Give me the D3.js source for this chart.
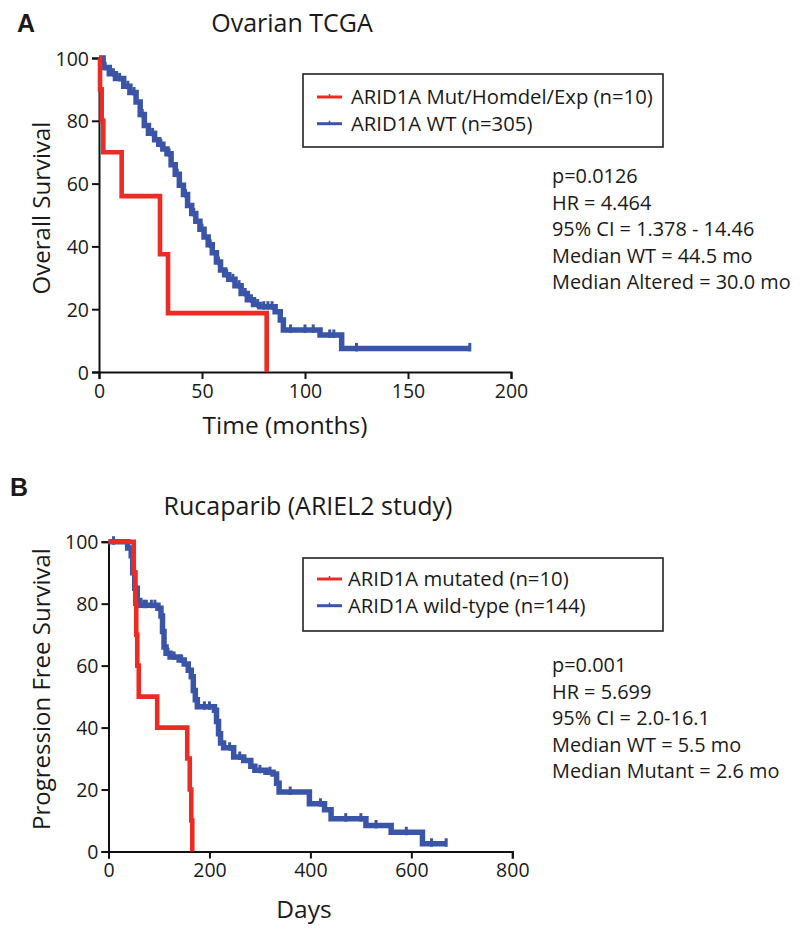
<!DOCTYPE html>
<html><head><meta charset="utf-8">
<script src="https://cdn.jsdelivr.net/npm/d3@7"></script>
<style>
html,body{margin:0;padding:0;background:#fff;}
text{font-family:"Open Sans",sans-serif;fill:#1a1a1a;}
</style></head>
<body>
<svg id="chart" width="800" height="934"></svg>
<script>
// ---------- Panel A: Ovarian TCGA (months, % survival) ----------
const panelATitle = "Ovarian TCGA";
const panelAXTicks = [0, 50, 100, 150, 200];
const panelAYTicks = [0, 20, 40, 60, 80, 100];
const redATime = [0, 0.5, 1.3, 2.1, 11, 29.6, 33.5, 81.4];
const redASurv = [100, 90, 80, 70, 56, 37.5, 18.75, 0];
const blueATime = [0, 2, 5, 8, 12, 15, 18, 20, 22, 24, 27, 29, 31, 33, 35, 37, 39, 41, 43, 45, 47, 49, 51, 53, 55, 57, 59, 61, 63, 66, 69, 72, 75, 78, 85.5, 88, 89.5, 107.3, 117.8, 180];
const blueASurv = [100, 97, 95, 93.5, 91, 89, 86, 82, 78.5, 76, 74, 72.5, 71, 69.5, 66, 63, 59.5, 56.5, 53, 50.5, 48, 45.5, 43, 40.5, 38, 35, 32.5, 31, 29.5, 27.5, 25, 23, 21.5, 20.8, 19.2, 16.6, 13.4, 11.8, 7.5, 7.5];
const blueACensor = [3, 7, 10, 14, 17, 21, 26, 30, 34, 38, 42, 46, 50, 54, 58, 62, 65, 68, 71, 74, 77, 80, 82, 84, 93, 100, 104, 112, 114, 125, 180];
const legendA = ["ARID1A Mut/Homdel/Exp (n=10)", "ARID1A WT (n=305)"];
const statsA = ["p=0.0126", "HR = 4.464", "95% CI = 1.378 - 14.46", "Median WT = 44.5 mo", "Median Altered = 30.0 mo"];

// ---------- Panel B: Rucaparib (days, % PFS) ----------
const panelBTitle = "Rucaparib (ARIEL2 study)";
const panelBXTicks = [0, 200, 400, 600, 800];
const panelBYTicks = [0, 20, 40, 60, 80, 100];
const redBTime = [0, 50, 53, 55, 57, 60, 96.5, 156, 161, 164, 166];
const redBSurv = [100, 90, 80, 70, 60, 50, 40, 30, 20, 10, 0];
const blueBTime = [0, 25, 38, 45, 48, 52, 57, 62, 98, 104, 107, 110, 114, 122, 140, 150, 158, 164, 168, 172, 176, 210, 214, 218, 222, 228, 248, 268, 282, 290, 312, 326, 333, 338, 398, 428, 441, 510, 560, 622, 669];
const blueBSurv = [100, 100, 98, 95.5, 90, 85, 81, 79.5, 78.5, 76, 71, 66, 64, 62.8, 61.8, 60.5, 58.5, 56.4, 52, 49, 46.7, 45.6, 42, 38, 35, 33.5, 30.5, 29.4, 27.5, 26.2, 25.6, 25, 22, 19.2, 15.4, 13.5, 10.6, 8.4, 6.2, 2.5, 2.5];
const blueBCensor = [10, 70, 75, 85, 92, 118, 130, 145, 190, 200, 240, 260, 300, 320, 360, 420, 470, 500, 530, 590, 640, 669];
const legendB = ["ARID1A mutated (n=10)", "ARID1A wild-type (n=144)"];
const statsB = ["p=0.001", "HR = 5.699", "95% CI = 2.0-16.1", "Median WT = 5.5 mo", "Median Mutant = 2.6 mo"];

const RED = "#ec2b24", BLUE = "#3a55a8";
const svg = d3.select("#chart");

function drawPanel(cfg) {
  const g = svg.append("g");
  const x = d3.scaleLinear().domain(cfg.xDomain).range(cfg.xRange);
  const y = d3.scaleLinear().domain([0, 100]).range(cfg.yRange);

  g.append("text").attr("x", cfg.letterX).attr("y", cfg.letterY)
    .style("font-family", "Liberation Sans, Arial, sans-serif")
    .attr("font-weight", "bold").attr("font-size", 25).text(cfg.letter);
  g.append("text").attr("x", cfg.titleX).attr("y", cfg.titleY)
    .attr("text-anchor", "middle").attr("font-size", 25).text(cfg.title);

  const xAxis = d3.axisBottom(x).tickValues(cfg.xTicks).tickSizeOuter(0).tickSize(7).tickPadding(5);
  const yAxis = d3.axisLeft(y).tickValues(cfg.yTicks).tickSizeOuter(0).tickSize(7).tickPadding(3);
  const gx = g.append("g").attr("transform", `translate(0,${cfg.yRange[0]})`).call(xAxis);
  const gy = g.append("g").attr("transform", `translate(${cfg.xRange[0]},0)`).call(yAxis);
  [gx, gy].forEach(a => {
    a.select(".domain").attr("stroke", "#111").attr("stroke-width", 2);
    a.selectAll(".tick line").attr("stroke", "#111").attr("stroke-width", 2);
    a.selectAll(".tick text").attr("font-size", 19.5).attr("fill", "#1a1a1a")
      .style("font-family", "'Open Sans', sans-serif");
  });
  gy.selectAll(".tick text").attr("dy", "0.36em");

  g.append("text").attr("x", cfg.xTitleX).attr("y", cfg.xTitleY)
    .attr("text-anchor", "middle").attr("font-size", 24.5).text(cfg.xTitle);
  g.append("text").attr("transform", `translate(${cfg.yTitleX},${cfg.yTitleY}) rotate(-90)`)
    .attr("text-anchor", "middle").attr("font-size", 24).text(cfg.yTitle);

  const line = d3.line().x(d => x(d[0])).y(d => y(d[1])).curve(d3.curveStepAfter);
  function curve(times, surv, color, width, censor) {
    const pts = times.map((t, i) => [t, surv[i]]);
    g.append("path").attr("d", line(pts)).attr("fill", "none")
      .attr("stroke", color).attr("stroke-width", width).attr("stroke-linejoin", "miter");
    if (censor) {
      const bis = d3.bisector(d => d).right;
      censor.forEach(c => {
        const i = Math.max(0, bis(times, c) - 1);
        const v = surv[i];
        g.append("line").attr("x1", x(c)).attr("x2", x(c))
          .attr("y1", y(v) - 5.5).attr("y2", y(v) + 3)
          .attr("stroke", color).attr("stroke-width", 3);
      });
    }
  }
  curve(cfg.blueT, cfg.blueS, BLUE, 5.5, cfg.blueC);
  curve(cfg.redT, cfg.redS, RED, 4.6, null);

  const L = cfg.legend;
  g.append("rect").attr("x", L.x).attr("y", L.y).attr("width", L.w).attr("height", L.h)
    .attr("fill", "#fff").attr("stroke", "#222").attr("stroke-width", 1.6);
  cfg.legendLabels.forEach((lab, i) => {
    const ly = L.y + L.firstLine + i * L.step;
    const col = i === 0 ? RED : BLUE;
    g.append("line").attr("x1", L.x + 14).attr("x2", L.x + 39).attr("y1", ly).attr("y2", ly)
      .attr("stroke", col).attr("stroke-width", 3);
    g.append("line").attr("x1", L.x + 26.5).attr("x2", L.x + 26.5).attr("y1", ly - 3).attr("y2", ly)
      .attr("stroke", col).attr("stroke-width", 1.5);
    g.append("text").attr("x", L.textX).attr("y", ly + 7).attr("font-size", 20.3).text(lab);
  });

  cfg.stats.forEach((s, i) => {
    g.append("text").attr("x", cfg.statsX).attr("y", cfg.statsY + i * 26.6)
      .attr("font-size", 19.9).text(s);
  });
}

drawPanel({
  letter: "A", letterX: 17, letterY: 32, title: panelATitle, titleX: 292, titleY: 32,
  xDomain: [0, 200], xRange: [99, 511], yRange: [372, 58],
  xTicks: panelAXTicks, yTicks: panelAYTicks,
  xTitle: "Time (months)", xTitleX: 285, xTitleY: 434,
  yTitle: "Overall Survival", yTitleX: 50, yTitleY: 208,
  redT: redATime, redS: redASurv, blueT: blueATime, blueS: blueASurv, blueC: blueACensor,
  legend: {x: 303, y: 74, w: 360, h: 73, firstLine: 23, step: 26.7, textX: 351},
  legendLabels: legendA, stats: statsA, statsX: 552, statsY: 183
});

drawPanel({
  letter: "B", letterX: 10, letterY: 496, title: panelBTitle, titleX: 308, titleY: 515,
  xDomain: [0, 800], xRange: [108.5, 512.3], yRange: [851.5, 541.7],
  xTicks: panelBXTicks, yTicks: panelBYTicks,
  xTitle: "Days", xTitleX: 304, xTitleY: 918,
  yTitle: "Progression Free Survival", yTitleX: 50, yTitleY: 689,
  redT: redBTime, redS: redBSurv, blueT: blueBTime, blueS: blueBSurv, blueC: blueBCensor,
  legend: {x: 303, y: 558, w: 360, h: 73, firstLine: 21, step: 26.7, textX: 348},
  legendLabels: legendB, stats: statsB, statsX: 552, statsY: 672
});
</script>
</body></html>
